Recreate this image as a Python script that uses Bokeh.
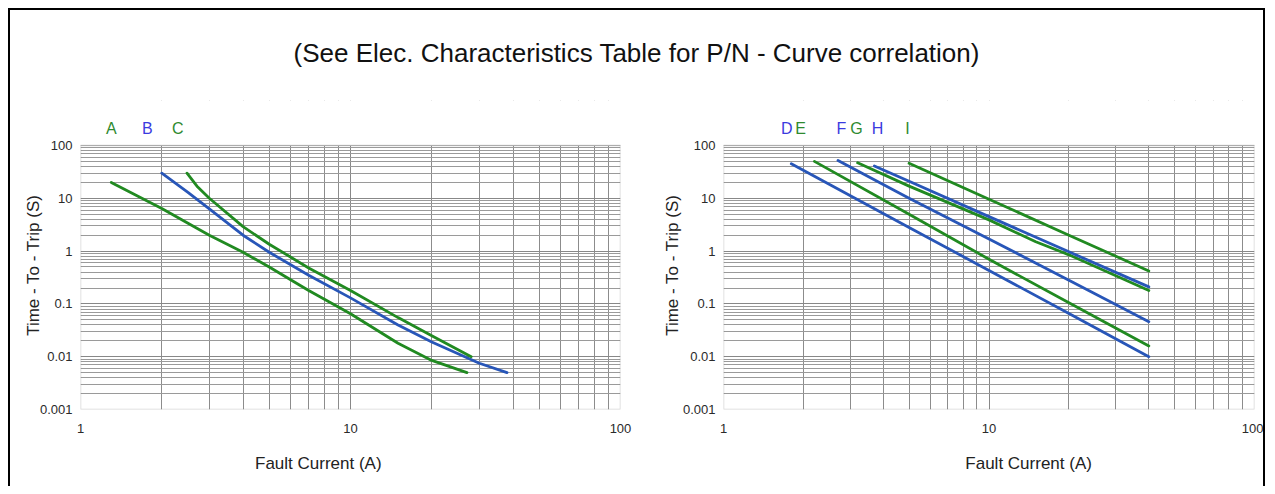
import math
from bokeh.plotting import figure
from bokeh.layouts import row, column
from bokeh.models import (Div, FixedTicker, Range1d, LogAxis, BoxAnnotation,
                          ColumnDataSource)
from bokeh.core.properties import value
from bokeh.embed import file_html
from bokeh.resources import INLINE

# ---------------- data ----------------
title_text = "(See Elec. Characteristics Table for P/N - Curve correlation)"
x_label = "Fault Current (A)"
y_label = "Time - To - Trip (S)"

x_major = [1, 10, 100]
x_labels = ["1", "10", "100"]
y_major = [0.001, 0.01, 0.1, 1, 10, 100]
y_labels = ["0.001", "0.01", "0.1", "1", "10", "100"]

# left chart: curves A, B, C
a_current = [1.3, 2, 3, 4, 5, 7, 10, 15, 20, 27]
a_time = [20, 6.4, 2.0, 0.95, 0.5, 0.18, 0.065, 0.018, 0.0085, 0.005]
b_current = [2, 2.5, 3, 4, 5, 7, 10, 15, 20, 30, 38]
b_time = [30, 13, 6.3, 2.0, 0.95, 0.35, 0.13, 0.04, 0.019, 0.0075, 0.005]
c_current = [2.48, 2.7, 3, 4, 5, 7, 10, 15, 20, 28]
c_time = [30, 17, 10, 2.9, 1.35, 0.48, 0.18, 0.055, 0.025, 0.01]

# right chart: curves D .. I
d_current = [1.8, 5, 10, 20, 40]
d_time = [45, 2.8, 0.43, 0.066, 0.01]
e_current = [2.2, 5, 10, 20, 40]
e_time = [50, 5.0, 0.7, 0.105, 0.016]
f_current = [2.7, 5, 10, 20, 40]
f_time = [52, 10, 1.7, 0.28, 0.046]
g_current = [3.2, 5, 10, 15, 20, 40]
g_time = [47, 17, 3.9, 1.5, 0.85, 0.18]
h_current = [3.7, 5, 10, 20, 40]
h_time = [41, 21, 4.5, 0.97, 0.21]
i_current = [5, 10, 20, 40]
i_time = [46, 9.6, 2.0, 0.42]

left_names = ["A", "B", "C"]
right_names = ["D", "E", "F", "G", "H", "I"]
# where the curve letters sit along the current axis
left_name_at = [1.30, 1.77, 2.29]
right_name_at = [1.73, 1.95, 2.78, 3.17, 3.8, 4.93]

GREEN = "#218a21"
BLUE = "#2856b8"
GREEN_TXT = "#2f8a2f"
BLUE_TXT = "#3a3ae0"
FONT = "Liberation Sans"

left_curves = [(a_current, a_time, GREEN), (b_current, b_time, BLUE), (c_current, c_time, GREEN)]
right_curves = [(d_current, d_time, BLUE), (e_current, e_time, GREEN), (f_current, f_time, BLUE),
                (g_current, g_time, GREEN), (h_current, h_time, BLUE), (i_current, i_time, GREEN)]
left_colors = [GREEN_TXT, BLUE_TXT, GREEN_TXT]
right_colors = [BLUE_TXT, GREEN_TXT, BLUE_TXT, GREEN_TXT, BLUE_TXT, GREEN_TXT]

x_minor = [m * 10 ** e for e in (0, 1) for m in range(2, 10)]
y_minor = [m * 10.0 ** e for e in (-3, -2, -1, 0, 1) for m in range(2, 10)]

X_START, X_END = x_major[0], x_major[-1]
Y_START, Y_END = y_major[0], y_major[-1]
TOP_ROOM = 10 ** (45 / 52.8)      # frame extends 45 px above the top of the grid
NAME_Y = 10 ** (17 / 52.8)        # letters sit 17 px above the grid
XLAB_AT = {"left": 7.6, "right": 14.1}
YLAB_AT = 11.8                    # upper end of the rotated y title


def plain_axis(ax):
    ax.axis_line_color = None
    ax.major_tick_line_color = None
    ax.minor_tick_line_color = None
    ax.major_tick_out = 0
    ax.major_tick_in = 0
    ax.minor_tick_out = 0
    ax.minor_tick_in = 0
    ax.major_label_text_font = FONT


def make_chart(curves, names, name_at, colors, frame_w, left_b, right_b, side):
    p = figure(x_axis_type="log", y_axis_type="log",
               x_range=Range1d(X_START, X_END), y_range=Range1d(Y_START, Y_END * TOP_ROOM),
               frame_width=frame_w, frame_height=309,
               min_border_left=left_b, min_border_right=right_b,
               min_border_top=0, min_border_bottom=10,
               output_backend="svg", toolbar_location=None, margin=0)
    p.background_fill_color = "white"
    p.border_fill_color = "white"
    p.outline_line_color = None

    xax = p.xaxis[0]
    yax = p.yaxis[0]
    xax.ticker = FixedTicker(ticks=x_major, minor_ticks=x_minor)
    yax.ticker = FixedTicker(ticks=y_major, minor_ticks=y_minor)
    xax.major_label_overrides = dict(zip(x_major, x_labels))
    yax.major_label_overrides = dict(zip(y_major, y_labels))
    for ax in (xax, yax):
        plain_axis(ax)
        ax.major_label_text_font_size = "13px"
        ax.major_label_text_color = "#2a2a2a"
    xax.major_label_standoff = 14
    yax.major_label_standoff = 8

    p.xgrid.grid_line_color = "#888888"
    p.xgrid.minor_grid_line_color = "#8c8c8c"
    p.ygrid.grid_line_color = "#888888"
    p.ygrid.minor_grid_line_color = "#9a9a9a"
    for g in (p.xgrid, p.ygrid):
        g.grid_line_width = 1
        g.minor_grid_line_width = 1

    # white band above the grid, where the curve letters sit
    p.add_layout(BoxAnnotation(bottom=Y_END, fill_color="white", fill_alpha=1.0,
                               line_color=None, level="underlay"))
    # box round the grid
    p.add_layout(BoxAnnotation(left=X_START, right=X_END, bottom=Y_START, top=Y_END,
                               fill_alpha=0, line_color="#777777", line_width=1.5))

    for xs, ys, col in curves:
        p.line(xs, ys, line_color=col, line_width=2.8, line_cap="round", line_join="round")

    src = ColumnDataSource(dict(x=name_at, y=[NAME_Y * Y_END] * len(names), t=names, c=colors))
    p.text(x="x", y="y", text="t", text_color="c", source=src, text_font=value(FONT),
           text_font_size="16px", text_align="center", text_baseline="middle")

    # axis titles, placed as single labels on extra axes
    xl = LogAxis(ticker=FixedTicker(ticks=[XLAB_AT[side]]),
                 major_label_overrides={XLAB_AT[side]: x_label})
    yl = LogAxis(ticker=FixedTicker(ticks=[YLAB_AT]),
                 major_label_overrides={YLAB_AT: y_label},
                 major_label_orientation=math.pi / 2)
    for ax in (xl, yl):
        plain_axis(ax)
        ax.major_label_text_font_size = "17px"
        ax.major_label_text_color = "#222222"
    xl.major_label_standoff = 18
    yl.major_label_standoff = 3 if side == "left" else 7
    p.add_layout(xl, "below")
    p.add_layout(yl, "left")
    return p


p1 = make_chart(left_curves, left_names, left_name_at, left_colors, 540, 70, 20, "left")
p2 = make_chart(right_curves, right_names, right_name_at, right_colors, 531, 83, 9, "right")

title = Div(text='<div style="width:1253px;text-align:center;font-family:\'Liberation Sans\';'
                 'font-size:26px;line-height:30px;color:#111;padding-top:28px;">'
                 + title_text + '</div>',
            width=1253, height=90, margin=0)


def bar(w, h):
    return Div(text="", width=w, height=h, margin=0, styles={"background-color": "#000000"})


body = column(title, row(p1, p2, spacing=0), spacing=0, margin=0)
layout = column(bar(1257, 2), row(bar(2, 476), body, bar(2, 476), spacing=0, margin=0),
                spacing=0, margin=(8, 0, 0, 8))

with open("out.html", "w") as f:
    f.write(file_html(layout, INLINE))
